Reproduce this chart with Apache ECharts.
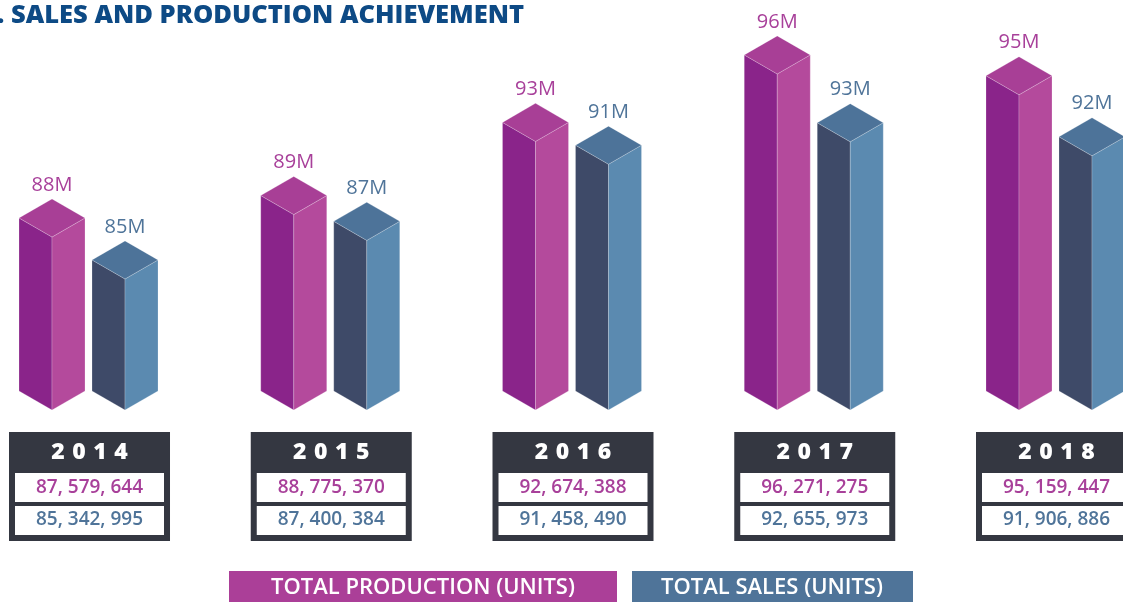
<!DOCTYPE html>
<html>
<head>
<meta charset="utf-8">
<script src="https://cdn.jsdelivr.net/npm/echarts@6/dist/echarts.min.js"></script>
<style>
  html, body { margin: 0; padding: 0; background: #fff; }
  #chart { width: 1123px; height: 602px; }
</style>
</head>
<body>
<div id="chart"></div>
<script>
const years = ["2014", "2015", "2016", "2017", "2018"];
const production = [87579644, 88775370, 92674388, 96271275, 95159447];
const sales = [85342995, 87400384, 91458490, 92655973, 91906886];

const Y_MIN = 78.36;
const PROD = { left: "#8a248a", right: "#b44a9c", top: "#a83f96", text: "#a8409a" };
const SALE = { left: "#3e4a68", right: "#5b8ab0", top: "#4d7399", text: "#4f7499" };

const fmtUnits = (v) => v.toLocaleString("en-US").replace(/,/g, ", ");
const fmtMillions = (v) => Math.round(v / 1e6) + "M";

function barRenderer(side, colors) {
  return (params, api) => {
    const i = api.value(0);
    const v = api.value(1);
    const bw = api.size([1, 0])[0];
    const base = api.coord([i, Y_MIN]);
    const top = api.coord([i, v]);
    const fx = base[0] + side * bw * 0.151;
    const hw = bw * 0.1365;
    const d = hw * 0.577;
    const yT = top[1];
    const yB = base[1];
    const edge = { stroke: "rgba(255,255,255,0.35)", lineWidth: 0.6 };
    return {
      type: "group",
      children: [
        {
          type: "polygon",
          shape: { points: [[fx - hw, yT - d], [fx, yT], [fx, yB], [fx - hw, yB - d]] },
          style: Object.assign({ fill: colors.left }, edge),
        },
        {
          type: "polygon",
          shape: { points: [[fx, yT], [fx + hw, yT - d], [fx + hw, yB - d], [fx, yB]] },
          style: Object.assign({ fill: colors.right }, edge),
        },
        {
          type: "polygon",
          shape: { points: [[fx, yT], [fx - hw, yT - d], [fx, yT - 2 * d], [fx + hw, yT - d]] },
          style: Object.assign({ fill: colors.top }, edge),
        },
        {
          type: "text",
          style: {
            x: fx, y: yT - 2 * d - 14,
            text: fmtMillions(api.value(2)),
            fill: colors.text,
            font: "400 20px 'Open Sans', sans-serif",
            align: "center", verticalAlign: "middle",
          },
        },
      ],
    };
  };
}

function tableRenderer(params, api) {
  const i = api.value(0);
  const cx = api.coord([i, Y_MIN])[0] + 1;
  // year digits drawn one by one for the wide tracking
  const digits = years[i].split("").map((ch, k) => ({
    type: "text",
    style: {
      x: cx + (k - 1.5) * 21, y: 452, text: ch,
      fill: "#ffffff", font: "800 23px 'Open Sans', sans-serif",
      align: "center", verticalAlign: "middle",
    },
  }));
  return {
    type: "group",
    children: [
      { type: "rect", shape: { x: cx - 80.5, y: 432, width: 161, height: 109 }, style: { fill: "#343741" } },
      ...digits,
      { type: "rect", shape: { x: cx - 74.5, y: 473, width: 149, height: 29 }, style: { fill: "#ffffff" } },
      { type: "rect", shape: { x: cx - 74.5, y: 506, width: 149, height: 29 }, style: { fill: "#ffffff" } },
      {
        type: "text",
        style: {
          x: cx, y: 488, text: fmtUnits(production[i]),
          fill: PROD.text, font: "600 19px 'Open Sans', sans-serif",
          align: "center", verticalAlign: "middle",
        },
      },
      {
        type: "text",
        style: {
          x: cx, y: 520, text: fmtUnits(sales[i]),
          fill: SALE.text, font: "600 19px 'Open Sans', sans-serif",
          align: "center", verticalAlign: "middle",
        },
      },
    ],
  };
}

const chart = echarts.init(document.getElementById("chart"));
chart.setOption({
  animation: false,
  backgroundColor: "#ffffff",
  title: {
    text: ". SALES AND PRODUCTION ACHIEVEMENT",
    left: -3,
    top: 3,
    padding: 0,
    textStyle: { color: "#0d4a85", fontSize: 25.5, fontWeight: 800, fontFamily: "'Open Sans', sans-serif" },
  },
  grid: { left: 0, right: 0, top: 4, bottom: 192 },
  xAxis: { type: "value", min: -0.3661, max: 4.2792, show: false },
  yAxis: { type: "value", min: Y_MIN, max: 100, show: false },
  series: [
    {
      type: "custom",
      name: "TOTAL PRODUCTION (UNITS)",
      renderItem: barRenderer(-1, PROD),
      data: production.map((v, i) => [i, v / 1e6, v]),
      clip: false,
    },
    {
      type: "custom",
      name: "TOTAL SALES (UNITS)",
      renderItem: barRenderer(1, SALE),
      data: sales.map((v, i) => [i, v / 1e6, v]),
      clip: false,
    },
    {
      type: "custom",
      renderItem: tableRenderer,
      data: years.map((y, i) => [i, Y_MIN]),
      clip: false,
    },
  ],
  graphic: [
    { type: "rect", shape: { x: 229, y: 571, width: 388, height: 34 }, style: { fill: "#ab3f98" } },
    {
      type: "text", x: 423, y: 588,
      style: {
        text: "TOTAL PRODUCTION (UNITS)", fill: "#ffffff",
        font: "600 22px 'Open Sans', sans-serif",
        align: "center", verticalAlign: "middle",
      },
    },
    { type: "rect", shape: { x: 632, y: 571, width: 281, height: 34 }, style: { fill: "#4f7499" } },
    {
      type: "text", x: 772, y: 588,
      style: {
        text: "TOTAL SALES (UNITS)", fill: "#ffffff",
        font: "600 22px 'Open Sans', sans-serif",
        align: "center", verticalAlign: "middle",
      },
    },
  ],
});
</script>
</body>
</html>
